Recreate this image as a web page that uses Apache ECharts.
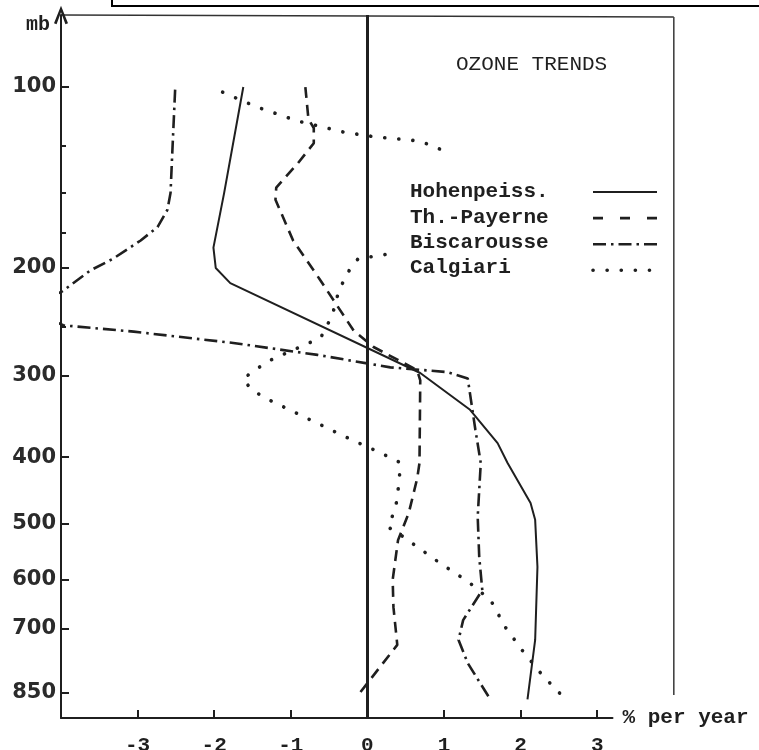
<!DOCTYPE html>
<html>
<head>
<meta charset="utf-8">
<script src="https://cdn.jsdelivr.net/npm/echarts@6/dist/echarts.min.js"></script>
<style>
  html, body { margin: 0; padding: 0; background: #fff; }
  #chart { width: 759px; height: 750px; }
</style>
</head>
<body>
<div id="chart"></div>
<script>
// Pressure levels (mb) labelled on the vertical axis, and the unlabelled minor ticks
const pressureTicks = [100, 200, 300, 400, 500, 600, 700, 850];
const pressureMinorTicks = [125, 150, 175, 250];
// Trend ticks on the horizontal axis (% per year)
const trendTicks = [-3, -2, -1, 0, 1, 2, 3];

const stations = ['Hohenpeiss.', 'Th.-Payerne', 'Biscarousse', 'Calgiari'];

// Profiles as [trend % per year, pressure mb]
const hohenpeiss = [
  [-1.62, 100], [-1.87, 150], [-2.01, 185], [-1.98, 200], [-1.79, 212],
  [0.69, 297], [1.34, 339], [1.70, 381], [1.83, 408], [2.13, 467],
  [2.19, 494], [2.22, 576], [2.19, 724], [2.09, 866]
];
const thPayerne = [
  [-0.81, 100], [-0.77, 113], [-0.70, 117], [-0.70, 124], [-0.91, 134],
  [-1.19, 147], [-1.20, 154], [-0.97, 180], [-0.61, 210], [-0.18, 254],
  [0.08, 270], [0.65, 294], [0.69, 305], [0.68, 408], [0.65, 430],
  [0.54, 483], [0.40, 528], [0.33, 600], [0.34, 654], [0.39, 735], [-0.12, 855]
];
const biscarousse = [
  [-2.51, 101], [-2.55, 131], [-2.57, 150], [-2.61, 160], [-2.74, 171],
  [-2.96, 180], [-3.32, 193], [-3.62, 202], [-3.99, 219], [-4.5, 233],
  [-3.97, 249], [-3.05, 255], [-1.75, 266], [-0.65, 278], [0.30, 291],
  [1.04, 296], [1.31, 303], [1.41, 364], [1.48, 408], [1.44, 489],
  [1.46, 558], [1.50, 620], [1.25, 681], [1.19, 724], [1.31, 777], [1.61, 868]
];
const calgiariUpper = [
  [-1.89, 102], [-1.44, 108], [-0.90, 114], [-0.29, 119], [0.10, 121],
  [0.69, 123], [1.02, 128]
];
const calgiariLower = [
  [0.23, 190], [-0.12, 193], [-0.22, 200], [-0.31, 210], [-0.38, 220],
  [-0.46, 240], [-0.61, 261], [-0.97, 273], [-1.31, 285], [-1.62, 303],
  [-1.53, 314], [-1.36, 324], [-0.22, 376], [0.13, 392], [0.42, 407],
  [0.42, 430], [0.37, 474], [0.27, 506], [0.40, 516], [0.95, 569],
  [1.32, 604], [1.61, 640], [1.80, 696], [2.02, 747], [2.28, 805], [2.62, 873]
];

// Standard-atmosphere height (km) for a pressure (mb): the vertical axis is linear in height
function heightKm(p) {
  if (p <= 226.32) return 11 + 6.3416 * Math.log(226.32 / p);
  return 44.331 * (1 - Math.pow(p / 1013.25, 0.1903));
}
const toXY = arr => arr.map(([t, p]) => [t, heightKm(p)]);
const pressureFor = h => {
  const hit = pressureTicks.find(p => Math.abs(heightKm(p) - h) < 1e-6);
  return hit === undefined ? '' : String(hit);
};

const ink = '#1f1f1f';
const mono = '"Liberation Mono", "DejaVu Sans Mono", monospace';
const yMin = 0.85, yMax = 17.93;
const xMin = -4, xMax = 3.2;
const boxRightTrend = 4;

const lineStyles = {
  'Hohenpeiss.': { type: 'solid', width: 2 },
  'Th.-Payerne': { type: [11, 7], width: 2.6 },
  'Biscarousse': { type: [13, 5, 2.5, 5], width: 2.6 },
  'Calgiari': { type: [0.1, 14], width: 3.6, cap: 'round' }
};

function lineSeries(name, data, extra) {
  return Object.assign({
    name: name,
    type: 'line',
    data: toXY(data),
    symbol: 'none',
    showSymbol: false,
    clip: true,
    silent: true,
    lineStyle: Object.assign({ color: ink }, lineStyles[name])
  }, extra || {});
}

const chart = echarts.init(document.getElementById('chart'), null, { renderer: 'canvas' });

chart.setOption({
  animation: false,
  backgroundColor: '#fff',
  title: {
    text: 'OZONE TRENDS',
    left: 451, top: 49,
    textStyle: { fontFamily: mono, fontSize: 21, fontWeight: 'normal', color: ink }
  },
  grid: { left: 61, top: 15, width: (xMax - xMin) * 76.6, height: 703,
          containLabel: false, outerBoundsMode: 'none' },
  xAxis: {
    type: 'value', min: xMin, max: xMax,
    name: '% per year', nameLocation: 'end', nameGap: 10,
    nameTextStyle: { fontFamily: mono, fontSize: 21, fontWeight: 'bold', color: ink,
                     verticalAlign: 'middle', padding: [12, 0, 0, 0] },
    axisLine: { onZero: false, lineStyle: { color: ink, width: 2 } },
    axisTick: { inside: true, length: 8, customValues: trendTicks, lineStyle: { color: ink, width: 2 } },
    axisLabel: { customValues: trendTicks, margin: 17, fontFamily: mono, fontSize: 21,
                 fontWeight: 'bold', color: ink },
    splitLine: { show: false }
  },
  yAxis: [{
    type: 'value', min: yMin, max: yMax, position: 'left',
    name: 'mb', nameLocation: 'end', nameGap: -10,
    nameTextStyle: { fontFamily: mono, fontSize: 20, fontWeight: 'bold', color: ink,
                     align: 'right', verticalAlign: 'middle', padding: [0, 11, 0, 0] },
    axisLine: {
      onZero: false,
      lineStyle: { color: ink, width: 2 },
      symbol: ['none', 'path://M0,15 L6,0 L12,15 L9.8,15.8 L6,5.5 L2.2,15.8 Z'],
      symbolSize: [14, 20]
    },
    axisTick: { inside: true, length: 8, customValues: pressureTicks.map(heightKm),
                lineStyle: { color: ink, width: 2 } },
    axisLabel: { customValues: pressureTicks.map(heightKm), formatter: pressureFor, margin: 5,
                 fontFamily: '"DejaVu Sans", sans-serif', fontSize: 21, fontWeight: 'bold',
                 color: '#2b2b2b' },
    splitLine: { show: false }
  }, {
    type: 'value', min: yMin, max: yMax, position: 'left',
    axisLine: { show: false, onZero: false },
    axisTick: { inside: true, length: 5, customValues: pressureMinorTicks.map(heightKm),
                lineStyle: { color: ink, width: 2 } },
    axisLabel: { show: false },
    splitLine: { show: false }
  }],
  series: [
    lineSeries('Hohenpeiss.', hohenpeiss, {
      markLine: {
        silent: true, symbol: ['none', 'none'], label: { show: false },
        lineStyle: { type: 'solid', color: ink, width: 3 },
        data: [{ xAxis: 0 }]
      }
    }),
    lineSeries('Th.-Payerne', thPayerne),
    lineSeries('Biscarousse', biscarousse),
    lineSeries('Calgiari', calgiariUpper),
    lineSeries('Calgiari', calgiariLower)
  ]
});

// Frame, box and key drawn on top of the plot
const [boxRight] = chart.convertToPixel({ gridIndex: 0 }, [boxRightTrend, yMax]);
const [axisLeft, boxTop] = chart.convertToPixel({ gridIndex: 0 }, [xMin, yMax]);
const boxBottom = chart.convertToPixel({ gridIndex: 0 }, [boxRightTrend, heightKm(850)])[1];

const keyLeft = 410, keyTop = 192, keyStep = 25.3, sampleX1 = 593, sampleX2 = 657;
const keyElements = [];
stations.forEach((name, i) => {
  const y = keyTop + i * keyStep;
  keyElements.push({
    type: 'text', x: keyLeft, y: y,
    style: { text: name, fill: ink, font: 'bold 21px ' + mono, textVerticalAlign: 'middle' }
  });
  const st = lineStyles[name];
  keyElements.push({
    type: 'line',
    shape: { x1: sampleX1, y1: y + i * 0.8, x2: sampleX2, y2: y + i * 0.8 },
    style: {
      stroke: ink, lineWidth: st.width,
      lineDash: name === 'Th.-Payerne' ? [10, 17] : (st.type === 'solid' ? null : st.type),
      lineCap: st.cap || 'butt'
    }
  });
});

chart.setOption({
  graphic: [
    { type: 'line', shape: { x1: axisLeft, y1: boxTop, x2: boxRight, y2: boxTop + 2 },
      style: { stroke: '#333', lineWidth: 1.6 } },
    { type: 'line', shape: { x1: boxRight, y1: boxTop + 2, x2: boxRight, y2: boxBottom + 2 },
      style: { stroke: '#444', lineWidth: 1.6 } },
    { type: 'rect', shape: { x: 112, y: -10, width: 700, height: 16 },
      style: { fill: 'none', stroke: '#000', lineWidth: 2 } }
  ].concat(keyElements)
});
</script>
</body>
</html>
